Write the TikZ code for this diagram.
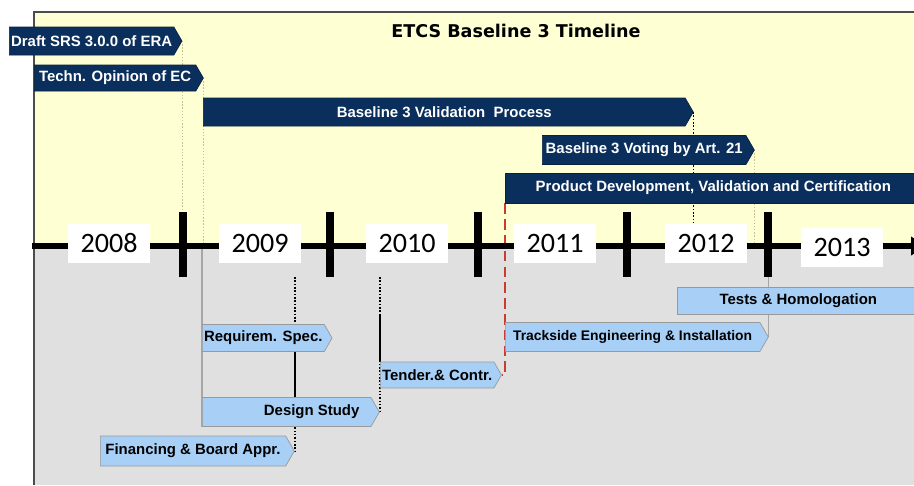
\documentclass[tikz,border=0pt]{standalone}
\usepackage{fontspec}
\setmainfont{Liberation Sans}
\newfontfamily\yearfont{Carlito}
\newfontfamily\titlefont{DejaVu Sans}
\usetikzlibrary{arrows.meta, positioning, shapes.symbols, calc}
\definecolor{barnavy}{RGB}{11,47,92}
\definecolor{barblue}{RGB}{168,208,246}
\definecolor{bgyellow}{RGB}{255,255,212}
\definecolor{bggray}{RGB}{224,224,224}
\definecolor{faint}{RGB}{200,192,150}
\definecolor{redline}{RGB}{200,60,50}
\pgfdeclarelayer{back}
\pgfdeclarelayer{guides}
\pgfsetlayers{back,guides,main}

\begin{document}
\begin{tikzpicture}[
    x=0.02cm, y=-0.02cm,
    darkbar/.style={
        signal, signal to=east, signal pointer angle=120,
        draw=barnavy!70!black, fill=barnavy, text=white,
        font=\bfseries\fontsize{8.5}{10}\selectfont,
        inner xsep=1pt, inner ysep=0pt, anchor=west
    },
    lightbar/.style={darkbar, draw=gray!80, fill=barblue, text=black},
    yearbox/.style={
        fill=white, minimum width=1.64cm, minimum height=0.78cm,
        font=\yearfont\fontsize{16}{18}\selectfont
    },
    axis/.style={line width=3.4pt, -{Triangle[length=0.3cm, width=0.36cm]}},
    tickmark/.style={line width=4pt},
    faintdot/.style={faint, densely dotted, line width=0.8pt},
    blackdot/.style={black, densely dotted, line width=0.9pt},
    thinblack/.style={black, line width=0.9pt},
    thingray/.style={gray!70, line width=0.6pt},
    reddash/.style={redline, dash pattern=on 6pt off 3pt, line width=1.2pt}
]
\useasboundingbox (0,0) rectangle (914,485);

\begin{pgfonlayer}{back}
\fill[bgyellow] (34,12) rectangle (914,247);
\fill[bggray] (34,247) rectangle (914,485);
\draw[gray!60!black, line width=1.1pt] (34,485) -- (34,12) -- (914,12);
\end{pgfonlayer}

\node[font=\titlefont\bfseries\fontsize{10}{12}\selectfont] (title) at (516,31) {ETCS Baseline 3 Timeline};

\coordinate (axis) at (0,246);
\coordinate (ticktop) at (0,212);
\coordinate (tickbot) at (0,277);
\draw[axis] (32,246) -- (926,246);
\foreach \x in {183,330,478,627,768}
    \draw[tickmark] (\x,212) -- (\x,277);
\foreach \yr/\x/\y in {2008/109/243,2009/260/243,2010/407/243,2011/555/243,2012/706/243,2013/842/247}
    \node[yearbox] (y\yr) at (\x,\y) {\yr};

\node[darkbar, minimum width=3.44cm, minimum height=0.56cm] (srs) at (9,41) {Draft SRS 3.0.0 of ERA};
\node[darkbar, minimum width=3.38cm, minimum height=0.52cm] (opinion) at (34,78) {Techn. Opinion of EC};
\node[darkbar, minimum width=9.8cm, minimum height=0.56cm] (valid) at (203,112) {Baseline 3 Validation\ \ Process};
\node[darkbar, minimum width=4.24cm, minimum height=0.58cm] (voting) at (542,150) {Baseline 3 Voting by Art. 21};
\node[darkbar, rectangle, minimum width=8.32cm, minimum height=0.6cm] (product) at (505,188) {Product Development, Validation and Certification};

\node[lightbar, rectangle, minimum width=4.84cm, minimum height=0.54cm] (tests) at (677,301) {Tests \& Homologation};
\node[lightbar, minimum width=5.26cm, minimum height=0.58cm, inner xsep=0pt, font=\bfseries\fontsize{7.9}{10}\selectfont] (trackside) at (505,337) {Trackside Engineering \& Installation};
\node[lightbar, minimum width=2.48cm, minimum height=0.54cm] (reqspec) at (202,338) {Requirem. Spec.};
\node[lightbar, minimum width=2.38cm, minimum height=0.52cm] (tender) at (380,375) {Tender.\& Contr.};
\node[lightbar, minimum width=3.54cm, minimum height=0.58cm] (design) at (202,412) {\hspace*{1cm}Design Study};
\node[lightbar, minimum width=3.88cm, minimum height=0.6cm] (finance) at (100,451) {Financing \& Board Appr.};

\begin{pgfonlayer}{guides}
\draw[faintdot] (srs.east) -- (srs.east |- ticktop);
\draw[faintdot] (opinion.east) -- (opinion.east |- axis);
\draw[blackdot] (valid.east) -- (valid.east |- y2012.north);
\draw[faintdot] (voting.east) -- (voting.east |- axis);
\draw[thingray] (reqspec.west |- axis) -- (reqspec.west |- design.south);
\draw[blackdot] (finance.east |- tickbot) -- (finance.east);
\draw[thinblack] (finance.east |- reqspec.south) -- (finance.east |- design.north);
\draw[blackdot] (design.east |- tickbot) -- (design.east);
\draw[thinblack] (design.east |- tests.south) -- (design.east |- tender.north);
\draw[reddash] (product.south west) -- (product.south west |- tender.east) -- (tender.east);
\draw[thingray] (trackside.east |- tickbot) -- (trackside.east);
\end{pgfonlayer}
\end{tikzpicture}
\end{document}
